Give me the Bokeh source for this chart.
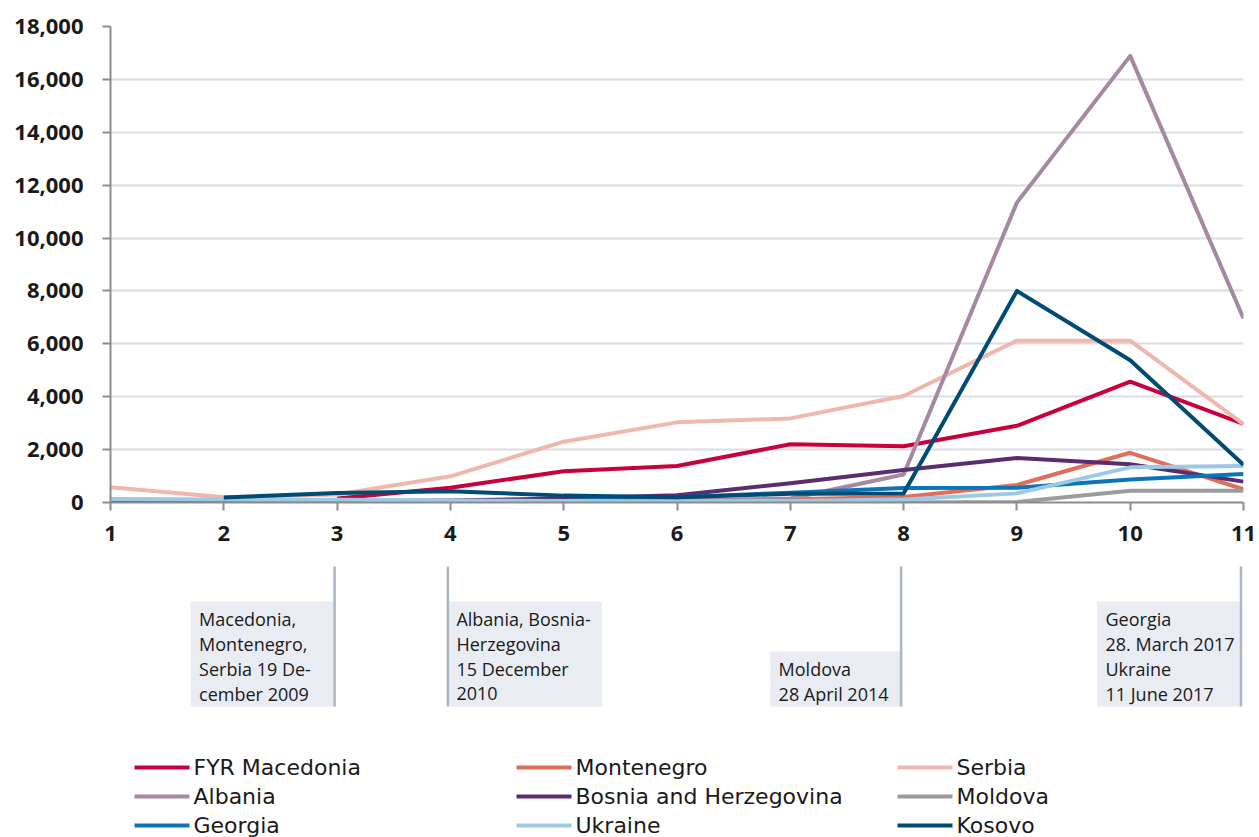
import math
from bokeh.plotting import figure
from bokeh.layouts import column
from bokeh.models import Range1d, FixedTicker, NumeralTickFormatter
from bokeh.core.properties import value
from bokeh.embed import file_html
from bokeh.resources import INLINE

NaN = float("nan")

# ---------------- data ----------------
x_values = [1, 2, 3, 4, 5, 6, 7, 8, 9, 10, 11]
x_tick_labels = ["1", "2", "3", "4", "5", "6", "7", "8", "9", "10", "11"]
y_ticks = [0, 2000, 4000, 6000, 8000, 10000, 12000, 14000, 16000, 18000]

fyr_macedonia = [NaN, NaN, 150, 560, 1180, 1380, 2200, 2130, 2900, 4570, 2970]
montenegro = [40, 40, 40, 50, 60, 80, 120, 210, 660, 1880, 500]
serbia = [580, 200, 300, 990, 2300, 3030, 3180, 4030, 6120, 6120, 2960]
albania = [20, 20, 20, 30, 40, 60, 150, 1060, 11340, 16890, 6960]
bosnia = [20, 30, 50, 80, 150, 270, 730, 1230, 1680, 1450, 790]
moldova = [0, 0, 0, 0, 0, 0, 0, 0, 20, 440, 440]
georgia = [30, 30, 40, 50, 60, 200, 370, 550, 555, 870, 1080]
ukraine = [130, 110, 100, 80, 60, 50, 60, 110, 345, 1330, 1380]
kosovo = [NaN, 190, 360, 430, 260, 200, 330, 340, 8000, 5380, 1430]

series_names = ["FYR Macedonia", "Montenegro", "Serbia", "Albania",
                "Bosnia and Herzegovina", "Moldova", "Georgia", "Ukraine", "Kosovo"]
series_values = [fyr_macedonia, montenegro, serbia, albania, bosnia,
                 moldova, georgia, ukraine, kosovo]
series_colors = ["#c8003c", "#df6f5a", "#efb8ac", "#a38aa0", "#5b2c6f",
                 "#9a9c9d", "#0b75b7", "#9cc9e4", "#004b73"]

# annotation markers (x position of the vertical marker line) and texts
marker_x = [3, 4, 8, 11]
marker_texts = [
    ["Macedonia,", "Montenegro,", "Serbia 19 De-", "cember 2009"],
    ["Albania, Bosnia-", "Herzegovina", "15 December", "2010"],
    ["Moldova", "28 April 2014"],
    ["Georgia", "28. March 2017", "Ukraine", "11 June 2017"],
]
marker_side = ["left", "right", "left", "left"]  # side of the line the box sits on

# ---------------- layout constants ----------------
FRAME_L = 110      # page px of x=1
FRAME_R = 1243     # page px of x=11
TOP_BORDER = 26
FRAME_H = 476
BOTTOM_BORDER = 56
TOP_H_PAGE = TOP_BORDER + FRAME_H + BOTTOM_BORDER   # page y where lower panel begins
TICK_FONT = "Open Sans"
ANN_FONT = "Open Sans"
LEG_FONT = "DejaVu Sans"
TXT = "#1a1a1a"

# ---------------- main chart ----------------
p = figure(frame_width=FRAME_R - FRAME_L, frame_height=FRAME_H,
           x_range=Range1d(1, 11), y_range=Range1d(0, 18000),
           output_backend="svg", toolbar_location=None,
           min_border_left=FRAME_L, min_border_right=1259 - FRAME_R,
           min_border_top=TOP_BORDER, min_border_bottom=BOTTOM_BORDER)
p.outline_line_color = None
p.background_fill_color = "white"
p.border_fill_color = "white"

p.xgrid.grid_line_color = None
p.ygrid.grid_line_color = "#d9dde3"
p.ygrid.grid_line_width = 2
p.ygrid.ticker = FixedTicker(ticks=y_ticks)

p.yaxis.ticker = FixedTicker(ticks=y_ticks)
p.yaxis.formatter = NumeralTickFormatter(format="0,0")
p.xaxis.ticker = FixedTicker(ticks=x_values)
p.xaxis.major_label_overrides = {v: l for v, l in zip(x_values, x_tick_labels)}

for ax in (p.xaxis, p.yaxis):
    ax.axis_line_color = "#8c8c8c"
    ax.axis_line_width = 2
    ax.major_tick_line_color = "#8c8c8c"
    ax.major_tick_line_width = 2
    ax.major_tick_out = 8
    ax.major_tick_in = 0
    ax.minor_tick_line_color = None
    ax.major_label_text_font = TICK_FONT
    ax.major_label_text_font_style = "bold"
    ax.major_label_text_font_size = "22px"
    ax.major_label_text_color = TXT
p.yaxis.major_label_standoff = 19
p.xaxis.major_label_standoff = 15

for name, vals, col in zip(series_names, series_values, series_colors):
    p.line(x_values, vals, line_color=col, line_width=4, line_join="round")

# ---------------- lower panel: annotations + legend ----------------
LOW_H = 837 - TOP_H_PAGE
b = figure(frame_width=FRAME_R - FRAME_L, frame_height=LOW_H,
           x_range=Range1d(FRAME_L, FRAME_R),
           y_range=Range1d(TOP_H_PAGE + LOW_H, TOP_H_PAGE),
           output_backend="svg", toolbar_location=None,
           x_axis_location=None, y_axis_location=None,
           min_border_left=FRAME_L, min_border_right=1259 - FRAME_R,
           min_border_top=0, min_border_bottom=0)
b.outline_line_color = None
b.grid.visible = False
b.background_fill_color = "white"
b.border_fill_color = "white"


def to_px(xv):
    return FRAME_L + (xv - 1) * (FRAME_R - FRAME_L) / 10.0


box_w = [144, 154, 131, 144]
LINE_TOP, BOX_BOTTOM, LINE_GAP = 566, 706, 25
for xv, lines, side, w in zip(marker_x, marker_texts, marker_side, box_w):
    lx = to_px(xv) - 2.5
    if side == "left":
        left, right = lx - w, lx
    else:
        left, right = lx, lx + w
    top = BOX_BOTTOM - 8 - LINE_GAP * len(lines) + 3
    b.quad(left=[left], right=[right], top=[top], bottom=[BOX_BOTTOM],
           fill_color="#e9ecf3", line_color=None)
    b.segment(x0=[lx], y0=[LINE_TOP], x1=[lx], y1=[BOX_BOTTOM],
              line_color="#aab6c2", line_width=2.5)
    ys = [BOX_BOTTOM - 13 - LINE_GAP * (len(lines) - 1 - i) for i in range(len(lines))]
    b.text(x=[left + 8.5] * len(lines), y=ys, text=lines,
           text_font=value(ANN_FONT), text_font_size="18px", text_color=TXT,
           text_baseline="middle", text_align="left")

# legend (3 columns, row-major)
col_x = [134, 516, 897]
row_y = [767, 796, 825]
for i, (name, col) in enumerate(zip(series_names, series_colors)):
    cx = col_x[i % 3]
    ry = row_y[i // 3]
    b.segment(x0=[cx], y0=[ry], x1=[cx + 55], y1=[ry], line_color=col, line_width=4)
    b.text(x=[cx + 59], y=[ry], text=[name], text_font=value(LEG_FONT),
           text_font_size="22px", text_color=TXT, text_baseline="middle",
           text_align="left")

layout = column(p, b, spacing=0)
open("out.html", "w").write(file_html(layout, INLINE))
